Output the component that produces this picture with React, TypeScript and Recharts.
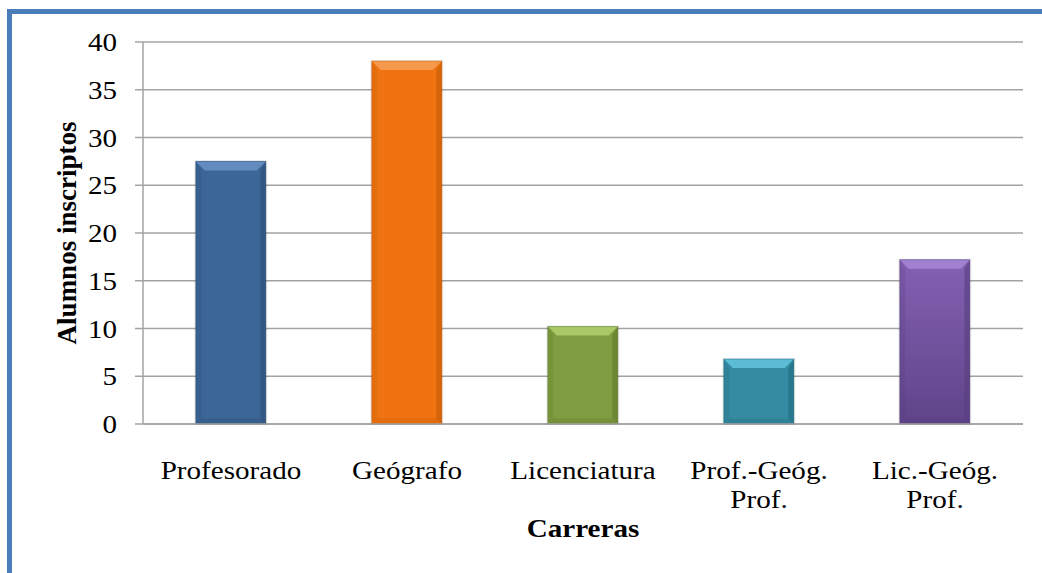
import { Bar, BarChart, CartesianGrid, Cell, XAxis, YAxis } from 'recharts';

const carreras = ['Profesorado', 'Geógrafo', 'Licenciatura', 'Prof.-Geóg. Prof.', 'Lic.-Geóg. Prof.'];
const alumnos = [27.5, 38, 10.2, 6.8, 17.2];
const yTicks = [0, 5, 10, 15, 20, 25, 30, 35, 40];

// main / light top / dark edge
const barColors = [
    ['#3c6696', '#6b96cb', '#2b4d74'],
    ['#ef7411', '#f8a15b', '#c25a06'],
    ['#7f9c41', '#b4d470', '#5f7a2c'],
    ['#348ba2', '#66c8e2', '#236b7f'],
    ['#7659a3', '#a989d8', '#563d7e'],
];

const data = carreras.map((name, i) => ({ name, value: alumnos[i] }));

const FONT = '"Liberation Serif", "Times New Roman", serif';
const STRETCH = 1.12;

const BevelBar = (props: any) => {
    const { x, y, width, height, index } = props;
    if (!height || height <= 0) return null;
    const [main, light, dark] = barColors[index];
    const b = Math.min(9, height / 3);
    const gid = `g${index}`;
    return (
        <g>
            <defs>
                <linearGradient id={gid} x1="0" y1="0" x2="0" y2="1">
                    <stop offset="0%" stopColor={index === 4 ? '#8461b3' : main} />
                    <stop offset="100%" stopColor={index === 4 ? '#5f4489' : main} />
                </linearGradient>
            </defs>
            <rect x={x - 1.5} y={y - 1} width={width + 3} height={height + 2} fill="#000" opacity={0.08} />
            <rect x={x} y={y} width={width} height={height} fill={`url(#${gid})`} />
            <polygon points={`${x},${y} ${x + width},${y} ${x + width - b},${y + b} ${x + b},${y + b}`} fill={light} opacity={0.8} />
            <polygon points={`${x},${y} ${x + b * 0.6},${y + b} ${x + b * 0.6},${y + height - b * 0.6} ${x},${y + height}`} fill={dark} opacity={0.25} />
            <polygon points={`${x + width},${y} ${x + width - b * 0.6},${y + b} ${x + width - b * 0.6},${y + height - b * 0.6} ${x + width},${y + height}`} fill={dark} opacity={0.6} />
            <polygon points={`${x},${y + height} ${x + b * 0.6},${y + height - b * 0.6} ${x + width - b * 0.6},${y + height - b * 0.6} ${x + width},${y + height}`} fill={dark} opacity={0.3} />
            <rect x={x} y={y} width={width} height={height} fill="none" stroke={dark} strokeWidth={1} opacity={0.5} />
        </g>
    );
};

const CategoryTick = (props: any) => {
    const { x, y, payload } = props;
    const lines = String(payload.value).split(' ');
    return (
        <g transform={`translate(${x},${y}) scale(${STRETCH},1)`}>
            {lines.map((line: string, i: number) => (
                <text key={i} x={0} y={47 + i * 29} textAnchor="middle" fontFamily={FONT} fontSize={26} fill="#000">
                    {line}
                </text>
            ))}
        </g>
    );
};

const ValueTick = (props: any) => {
    const { x, y, payload } = props;
    return (
        <g transform={`translate(${x},${y}) scale(${STRETCH},1)`}>
            <text x={0} y={9} textAnchor="end" fontFamily={FONT} fontSize={26} fill="#000">
                {payload.value}
            </text>
        </g>
    );
};

export default function App() {
    return (
        <div style={{ position: 'absolute', left: 0, top: 0, width: 1042, height: 573, background: '#fff', overflow: 'hidden' }}>
            <div
                style={{
                    position: 'absolute',
                    left: 7,
                    top: 9,
                    right: -10,
                    bottom: -10,
                    borderTop: '5px solid #4a7ebb',
                    borderLeft: '5px solid #4a7ebb',
                }}
            />
            <div style={{ position: 'absolute', left: 0, top: 0 }}>
                <BarChart
                    width={1042}
                    height={573}
                    data={data}
                    margin={{ top: 42, right: 19, left: 0, bottom: 0 }}
                    barCategoryGap="30%"
                >
                    <CartesianGrid vertical={false} stroke="#a3a3a3" strokeWidth={1.5} />
                    <XAxis
                        dataKey="name"
                        height={149}
                        axisLine={{ stroke: '#a3a3a3', strokeWidth: 1.5 }}
                        tickLine={false}
                        tick={<CategoryTick />}
                        interval={0}
                        label={{
                            content: () => (
                                <g transform={`translate(583,537) scale(${STRETCH},1)`}>
                                    <text x={0} y={0} textAnchor="middle" fontFamily={FONT} fontSize={26} fontWeight="bold" fill="#000">
                                        Carreras
                                    </text>
                                </g>
                            ),
                        }}
                    />
                    <YAxis
                        width={143}
                        domain={[0, 40]}
                        ticks={yTicks}
                        interval={0}
                        axisLine={{ stroke: '#a3a3a3', strokeWidth: 1.5 }}
                        tickLine={{ stroke: '#a3a3a3', strokeWidth: 1.5 }}
                        tickSize={8}
                        tickMargin={18}
                        tick={<ValueTick />}
                        label={{
                            content: () => (
                                <text
                                    x={76}
                                    y={233}
                                    transform="rotate(-90 76 233)"
                                    textAnchor="middle"
                                    fontFamily={FONT}
                                    fontSize={27}
                                    fontWeight="bold"
                                    fill="#000"
                                >
                                    Alumnos inscriptos
                                </text>
                            ),
                        }}
                    />
                    <Bar dataKey="value" isAnimationActive={false} shape={<BevelBar />}>
                        {data.map((_, i) => (
                            <Cell key={`c-${i}`} fill={barColors[i][0]} />
                        ))}
                    </Bar>
                </BarChart>
            </div>
        </div>
    );
}
